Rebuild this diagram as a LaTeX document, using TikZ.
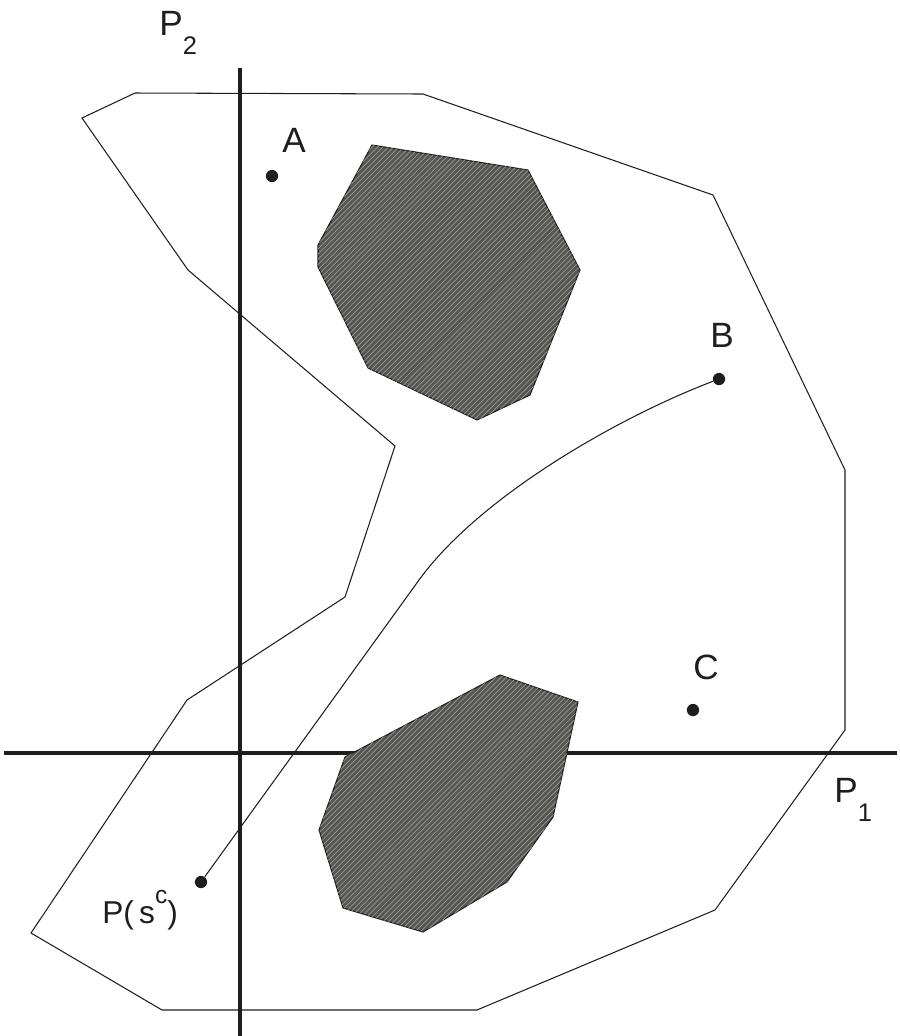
\documentclass[tikz,border=0pt]{standalone}
\usepackage{fontspec}
\setmainfont{Liberation Sans}
\usepackage{tikz}
\usetikzlibrary{patterns}
\definecolor{shade}{HTML}{555551}
\definecolor{ink}{HTML}{1E1E1C}
\newcommand{\lowsub}[1]{\raisebox{-0.55em}{\fontsize{14.5}{16}\selectfont #1}}
\newcommand{\highsup}[1]{\raisebox{0.62em}{\fontsize{14}{16}\selectfont #1}}
\tikzset{
    axis/.style={
        line width=2.3pt,
        color=ink
    },
    boundary/.style={
        line width=0.6pt,
        color=ink
    },
    obstacle/.style={
        fill=shade,
        draw=ink,
        line width=0.6pt,
        postaction={pattern=north east lines, pattern color=gray!80}
    },
    trajectory/.style={
        line width=0.6pt,
        color=ink
    },
    state/.style={
        circle,
        fill=ink,
        inner sep=0pt,
        minimum size=7pt
    },
    pointlabel/.style={
        font=\fontsize{20}{24}\selectfont,
        inner sep=0pt,
        text=ink
    }
}

\begin{document}
\begin{tikzpicture}[x=0.02cm,y=-0.02cm]

    \useasboundingbox (0,0) rectangle (900,1036);

    % Axes
    \coordinate (p1start) at (4,753);
    \coordinate (p1end) at (897,753);
    \coordinate (p2start) at (240,68);
    \coordinate (p2end) at (240,1036);

    \draw[axis] (p1start) -- (p1end);
    \draw[axis] (p2start) -- (p2end);

    % Obstacles
    \draw[obstacle]
        (372,145) -- (528,170) -- (580,270) -- (530,395)
        -- (477,420) -- (368,368) -- (318,267) -- (318,245)
        -- cycle;

    \draw[obstacle]
        (500,675) -- (578,702) -- (553,817) -- (507,882)
        -- (423,932) -- (343,908) -- (319,830) -- (345,757)
        -- cycle;

    % Reachable set
    \draw[boundary]
        (135,93) -- (423,94) -- (713,195) -- (845,470)
        -- (845,730) -- (715,910) -- (477,1010) -- (162,1010)
        -- (31,933) -- (187,700) -- (345,597) -- (395,446)
        -- (188,270) -- (82,118)
        -- cycle;

    % States
    \node[state] (A) at (272,176) {};
    \node[state] (B) at (719,379) {};
    \node[state] (C) at (693,710) {};
    \node[state] (psc) at (201,882) {};

    % Path
    \coordinate (bend) at (419,580);
    \draw[trajectory]
        (psc) -- (bend)
        .. controls (480,496) and (619,417) .. (B);

    % Labels
    \node[pointlabel, anchor=base] (lblA) at (294,152) {A};
    \node[pointlabel, anchor=base] (lblB) at (722,347) {B};
    \node[pointlabel, anchor=base] (lblC) at (706,679) {C};

    \node[
        pointlabel,
        anchor=base west,
        font=\fontsize{18}{22}\selectfont
    ]
        (lblpsc) at (102,923)
        {P(\,s\highsup{c})};

    \node[pointlabel, anchor=base west] (lblp1) at (834,802) {P\lowsub{1}};
    \node[pointlabel, anchor=base west] (lblp2) at (159,35) {P\lowsub{2}};

\end{tikzpicture}
\end{document}
